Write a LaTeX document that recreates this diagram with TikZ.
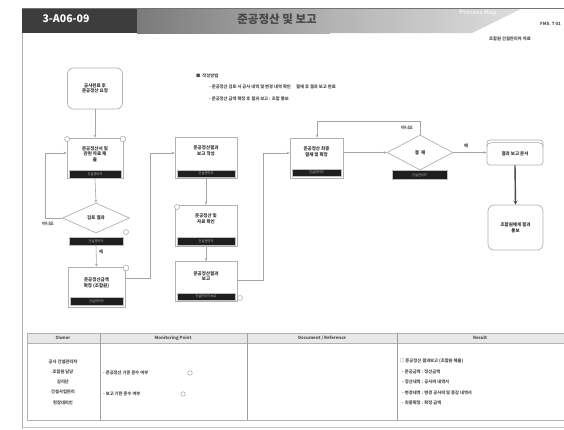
\documentclass[tikz,border=0pt]{standalone}
\usepackage{fontspec}
\setmainfont{Noto Sans CJK KR}
\usetikzlibrary{shapes.geometric,arrows.meta,calc}
\begin{document}
\begin{tikzpicture}[x=1pt,y=-1pt,
  proc/.style={draw=gray!60, fill=white, line width=0.7pt, inner sep=0pt},
  txt/.style={font=\bfseries\fontsize{4.5}{5.6}\selectfont, align=center, text=black!80, inner sep=0pt},
  small/.style={font=\bfseries\fontsize{4.3}{5.6}\selectfont, text=black!70, inner sep=0pt},
  bar/.style={fill=black!88, draw=gray!50, line width=0.4pt, minimum height=7.5pt, inner sep=0pt, font=\fontsize{3.2}{3.6}\selectfont, text=gray!45},
  dia/.style={diamond, draw=gray!60, fill=white, line width=0.7pt, inner sep=0pt},
  arr/.style={-{Stealth[length=3pt,width=2.6pt]}, draw=gray!70, line width=0.6pt},
  ln/.style={draw=gray!70, line width=0.6pt},
  icon/.style={circle, draw=gray!70, fill=white, line width=0.5pt, minimum size=5pt, inner sep=0pt},
  sicon/.style={rectangle, rounded corners=1pt, draw=gray!70, fill=white, line width=0.5pt, minimum size=5pt, inner sep=0pt}
]
\useasboundingbox (0,0) rectangle (564,429);
\fill[white] (0,0) rectangle (564,429);

% ---------- header ----------
\fill[black!76] (22,8) rectangle (137,33);
\shade[left color=black!52, right color=black!30] (137,8) rectangle (330,33);
\shade[left color=black!30, right color=black!13] (330,8) -- (523,8) -- (472,33) -- (330,33) -- cycle;
\draw[black!55, line width=0.8pt] (22,8) -- (564,8);
\draw[gray!60, line width=0.8pt] (22,33) -- (22,429);
\node[font=\bfseries\fontsize{10.5}{11}\selectfont, text=white] (code) at (66,19) {3-A06-09};
\node[font=\bfseries\fontsize{11.5}{12}\selectfont, text=black!72] (title) at (277,19) {준공정산 및 보고};
\node[font=\bfseries\fontsize{6}{7}\selectfont, text=white, opacity=0.6] (wm) at (478,13) {Process Map};
\node[small, anchor=east] (form) at (561,24) {FMS. T 01};
\node[small, anchor=west] (dept) at (489,39) {조합원 건설관리자 자료};

% ---------- notes ----------
\node[small, anchor=west] (n0) at (196,76) {■ \ 작성방법};
\node[small, anchor=west] (n1) at (209,87) {- 준공정산 검토 시 공사 내역 및 변경 내역 확인 \quad 결재 후 결과 보고 완료};
\node[small, anchor=west] (n2) at (209,99) {- 준공정산 금액 확정 후 결과 보고 : 조합 통보};

% ---------- left column ----------
\node[proc, rounded corners=6pt, minimum width=55pt, minimum height=41pt] (start) at (95,88.5) {};
\node[txt] (startt) at (95,88.5) {공사완료 후\\준공정산 요청};

\node[proc, minimum width=56pt, minimum height=40pt] (b1) at (95,158) {};
\node[txt] (b1t) at (95,154) {준공정산서 및\\관련 자료 제\\출};
\node[bar, minimum width=52pt] (b1b) at (95,174) {건설관리자};
\node[icon] (i1) at (67,139) {};
\node[sicon] (i2) at (123,139) {};

\node[dia, minimum width=67pt, minimum height=30pt] (d1) at (96,218) {};
\node[txt] (d1t) at (96,218) {검토 결과};
\node[bar, minimum width=54pt] (d1b) at (96,241) {건설관리자};
\node[icon] (i3) at (126,232) {};

\node[proc, minimum width=57pt, minimum height=40pt] (b2) at (96.5,287) {};
\node[txt] (b2t) at (96.5,283) {준공정산금액\\확정 (조합원)};
\node[bar, minimum width=53pt] (b2b) at (96.5,301) {건설관리자};
\node[sicon] (i4) at (126,268) {};

\draw[arr] (start.south) -- (b1.north);
\draw[arr] (b1.south) -- (d1.north);
\draw[arr] (d1b.south) -- (b2.north);
\coordinate (l1) at (45,218);
\coordinate (l2) at (45,153);
\draw[arr] (d1.west) -- (l1) -- (l2) -- (b1.west |- l2);
\node[small] (no1) at (48,224) {아니오};
\node[small] (yes1) at (101,252) {예};

% connector to middle column
\coordinate (m1) at (150,278);
\coordinate (m2) at (150,153);

% ---------- middle column ----------
\node[proc, minimum width=62pt, minimum height=41pt] (b3) at (206,157.5) {};
\node[txt] (b3t) at (206,151) {준공정산결과\\보고 작성};
\node[bar, minimum width=58pt] (b3b) at (206,173.5) {건설관리자};

\node[proc, minimum width=62pt, minimum height=41pt] (b4) at (206,225.5) {};
\node[txt] (b4t) at (206,219) {준공정산 및\\자료 확인};
\node[bar, minimum width=58pt] (b4b) at (206,241) {건설관리자};
\node[icon] (i5) at (177,207) {};

\node[proc, minimum width=62pt, minimum height=40pt] (b5) at (206,281.5) {};
\node[txt] (b5t) at (206,276) {준공정산결과\\보고};
\node[bar, minimum width=58pt] (b5b) at (206,296.5) {건설관리자 보고};
\node[icon] (i6) at (240,298) {};

\draw[ln] (b2.east |- m1) -- (m1) -- (m2);
\draw[arr] (m2) -- (b3.west |- m2);
\draw[arr] (b3.south) -- (b4.north);
\draw[arr] (b4.south) -- (b5.north);

% ---------- right part ----------
\coordinate (r1) at (263,280);
\coordinate (r2) at (263,153);
\draw[ln] (b5.east |- r1) -- (r1) -- (r2);

\node[proc, minimum width=53pt, minimum height=40pt] (b6) at (316.5,158) {};
\node[txt] (b6t) at (316.5,152) {준공정산 최종\\결재 및 확정};
\node[bar, minimum width=49pt] (b6b) at (316.5,172.5) {건설관리자};
\draw[arr] (r2) -- (b6.west |- r2);

\node[dia, minimum width=66pt, minimum height=35pt] (d2) at (420,152.5) {};
\node[txt] (d2t) at (420,152.5) {결 \ 재};
\node[bar, minimum width=55pt, minimum height=9pt] (d2b) at (419.5,175) {건설관리자};
\draw[arr] (b6.east |- d2) -- (d2.west);

\coordinate (t1) at (420,121);
\coordinate (t2) at (317,121);
\draw[arr] (d2.north) -- (t1) -- (t2) -- (b6.north -| t2);
\node[small] (no2) at (407,128) {아니오};

\node[proc, rounded corners=3pt, minimum width=56pt, minimum height=25pt] (doc) at (515,152.5) {};
\draw[ln] ($(doc.north west)+(0,7)$) to[out=90,in=180] ($(doc.north west)+(5,3)$) -- ($(doc.north east)+(-5,3)$) to[out=0,in=90] ($(doc.north east)+(0,7)$);
\node[txt] (doct) at (515,154) {결과 보고 문서};
\draw[arr] (d2.east) -- (doc.west);
\node[small] (yes2) at (466,146) {예};

\node[proc, rounded corners=6pt, minimum width=55pt, minimum height=45pt] (end) at (515.5,227.5) {};
\node[txt] (endt) at (515.5,227.5) {조합원에게 결과\\통보};
\draw[-{Stealth[length=4pt,width=4pt]}, draw=black!70, line width=1.4pt] (doc.south) -- (end.north);

% ---------- table ----------
\draw[gray!60, line width=0.6pt, fill=gray!18] (27,333) rectangle (566,343);
\draw[gray!60, line width=0.6pt] (27,343) rectangle (566,420);
\foreach \xx in {100,247,397} \draw[gray!75, line width=0.9pt] (\xx,333) -- (\xx,420);
\draw[gray!45, line width=0.5pt] (22,427) -- (564,427);
\node[small] (h1) at (63,338) {Owner};
\node[small] (h2) at (173,338) {Monitoring Point};
\node[small] (h3) at (322,338) {Document / Reference};
\node[small] (h4) at (480,338) {Result};

\node[small, align=center, font=\bfseries\fontsize{4.3}{10.2}\selectfont] (own) at (63,382) {공사 건설관리자\\조합원 담당\\감리단\\건설사업관리\\현장대리인};

\node[small, anchor=west] (mp1) at (103,373) {- 준공정산 기준 준수 여부};
\node[icon, minimum size=4.5pt] (mi1) at (190,373) {};
\node[small, anchor=west] (mp2) at (103,394) {- 보고 기한 준수 여부};
\node[icon, minimum size=4.5pt] (mi2) at (183,394) {};

\node[small, anchor=west] (rs1) at (400,361) {□ 준공정산 결과보고 (조합원 제출)};
\node[small, anchor=west] (rs2) at (402,372) {- 준공금액 : 정산금액};
\node[small, anchor=west] (rs3) at (402,382) {- 정산내역 : 공사비 내역서};
\node[small, anchor=west] (rs4) at (402,393) {- 변경내역 : 변경 공사비 및 증감 내역서};
\node[small, anchor=west] (rs5) at (402,403) {- 최종확정 : 확정 금액};
\end{tikzpicture}
\end{document}
